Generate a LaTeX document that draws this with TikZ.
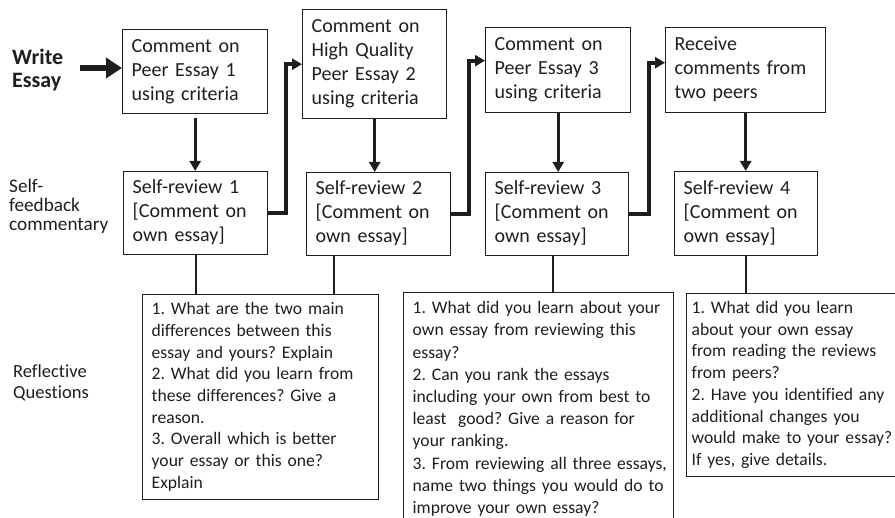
\documentclass[tikz,border=0pt]{standalone}
\usepackage{fontspec}
\setmainfont[Ligatures=NoCommon]{Carlito}
\usetikzlibrary{arrows.meta}
\definecolor{ink}{HTML}{1E1E1E}
\frenchspacing
\newcommand{\lines}[1]{\begin{tabular}{@{}l@{}}#1\end{tabular}}
\begin{document}
\begin{tikzpicture}[x=1pt,y=-1pt,
  box/.style={draw=ink, text=ink, line width=1.4pt, inner xsep=9pt, inner ysep=0pt,
    align=left, anchor=north west, font=\fontsize{20}{24}\selectfont},
  qbox/.style={draw=ink, text=ink, line width=1.4pt, inner ysep=0pt,
    align=left, anchor=north west},
  lab/.style={text=ink, inner sep=0pt, align=left, anchor=north west},
  down/.style={draw=ink, line width=3pt, -{Triangle[length=10pt,width=11pt]}},
  elbow/.style={draw=ink, line width=4pt, -{Triangle[length=10pt,width=11pt]}},
  link/.style={draw=ink, line width=2pt}]
\useasboundingbox (0,0) rectangle (895,518);
\clip (0,0) rectangle (895,518);

% left labels
\node[lab, font=\bfseries\fontsize{22}{23}\selectfont] (we) at (12,49) {Write\\Essay};
\node[lab, font=\fontsize{19.2}{19}\selectfont] (sf) at (9,179) {Self-\\feedback\\commentary};
\node[lab, font=\fontsize{18.5}{21}\selectfont] (rq) at (13,364) {Reflective\\Questions};

% top row
\node[box, text width=127pt, minimum height=84pt] (A) at (122,29) {\lines{Comment on\\Peer Essay 1\\using criteria}};
\node[box, text width=126pt, minimum height=109pt] (B) at (302,9) {\lines{Comment on\\High Quality\\Peer Essay 2\\using criteria}};
\node[box, text width=127pt, minimum height=85pt] (C) at (485,27) {\lines{Comment on\\Peer Essay 3\\using criteria}};
\node[box, text width=142pt, minimum height=85pt] (D) at (665,27) {\lines{Receive\\comments from\\two peers}};

% self reviews
\node[box, text width=126pt, minimum height=83pt] (S1) at (123,171) {\lines{Self-review 1\\{[}Comment on\\own essay]}};
\node[box, text width=126pt, minimum height=83pt] (S2) at (306,172) {\lines{Self-review 2\\{[}Comment on\\own essay]}};
\node[box, text width=125pt, minimum height=83pt] (S3) at (485,172) {\lines{Self-review 3\\{[}Comment on\\own essay]}};
\node[box, text width=125pt, minimum height=84pt] (S4) at (674,171) {\lines{Self-review 4\\{[}Comment on\\own essay]}};

% question boxes
\node[qbox, inner xsep=9pt, text width=218pt, minimum height=205pt, font=\fontsize{17.6}{21.7}\selectfont] (Q1) at (142,294)
 {\lines{1. What are the two main\\differences between this\\essay and yours? Explain\\2. What did you learn from\\these differences? Give a\\reason.\\3. Overall which is better\\your essay or this one?\\Explain}};
\node[qbox, inner xsep=9pt, text width=252pt, minimum height=233pt, font=\fontsize{17.6}{22.2}\selectfont] (Q2) at (403,292)
 {\lines{1. What did you learn about your\\own essay from reviewing this\\essay?\\2. Can you rank the essays\\including your own from best to\\least\ \ good? Give a reason for\\your ranking.\\3. From reviewing all three essays,\\name two things you would do to\\improve your own essay?}};
\node[qbox, inner xsep=5pt, text width=200pt, minimum height=183pt, font=\fontsize{17.6}{21.7}\selectfont] (Q3) at (686,293)
 {\lines{1. What did you learn\\about your own essay\\from reading the reviews\\from peers?\\2. Have you identified any\\additional changes you\\would make to your essay?\\If yes, give details.}};

% connectors
\coordinate (ws) at (80,68);
\draw[draw=ink, line width=6pt, -{Triangle[length=16pt,width=20pt]}] (ws) -- (ws -| A.west);

\draw[down, shorten <=4pt] (A.south) -- (A.south |- S1.north);
\draw[down] (B.south) -- (B.south |- S2.north);
\draw[down] (C.south) -- (C.south |- S3.north);
\draw[down] (D.south) -- (D.south |- S4.north);

\draw[elbow] (S1.east) -- ++(18,0) |- (B.west);
\draw[elbow] (S2.east) -- ++(18,0) |- ([yshift=9.5pt]C.west);
\draw[elbow] (S3.east) -- ++(20,0) |- ([yshift=7.5pt]D.west);

\draw[link] (S1.south) -- (S1.south |- Q1.north);
\draw[link] ([xshift=-45pt]S2.south) -- ([xshift=-45pt]S2.south |- Q1.north);
\draw[link] ([xshift=-4pt]S3.south) -- ([xshift=-4pt]S3.south |- Q2.north);
\draw[link] (S4.south) -- (S4.south |- Q3.north);
\end{tikzpicture}
\end{document}
